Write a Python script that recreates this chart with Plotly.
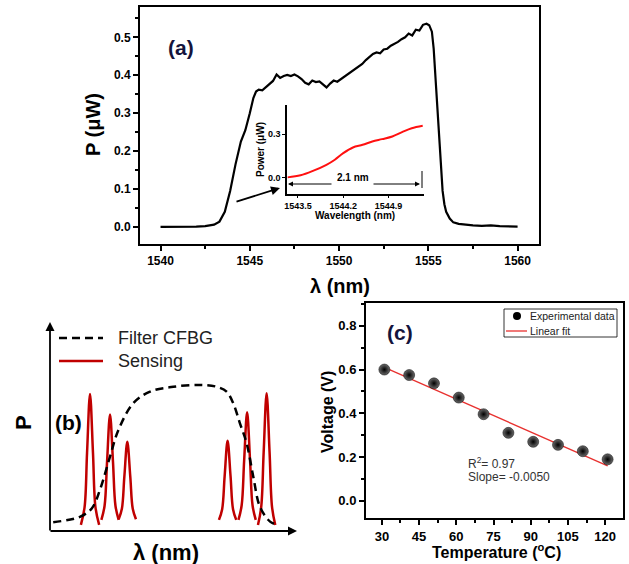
import plotly.graph_objects as go

W, H = 629, 564
def fx(p): return p / W
def fy(p): return 1 - p / H

FONT = "Arial, Liberation Sans, sans-serif"

# ---------------- Panel (a): spectrum ----------------
wavelength_a = [1540.0, 1540.5, 1541.0, 1541.5, 1542.0, 1542.5, 1543.0, 1543.3, 1543.6, 1543.9,
                1544.2, 1544.5, 1544.75, 1545.0, 1545.2, 1545.35, 1545.5, 1545.7, 1545.9, 1546.1,
                1546.3, 1546.5, 1546.7, 1546.9, 1547.1, 1547.3, 1547.5, 1547.7, 1547.9, 1548.1,
                1548.3, 1548.5, 1548.7, 1548.9, 1549.1, 1549.3, 1549.5, 1549.7, 1549.9, 1550.1,
                1550.3, 1550.5, 1550.7, 1550.9, 1551.1, 1551.3, 1551.5, 1551.7, 1551.9, 1552.1,
                1552.3, 1552.5, 1552.7, 1552.9, 1553.1, 1553.3, 1553.5, 1553.7, 1553.9, 1554.1,
                1554.3, 1554.5, 1554.7, 1554.9, 1555.05, 1555.2, 1555.3, 1555.4, 1555.5, 1555.6,
                1555.7, 1555.8, 1555.9, 1556.0, 1556.2, 1556.4, 1556.7, 1557.0, 1557.5, 1558.0,
                1558.5, 1559.0, 1559.5, 1560.0]
power_a = [0.0, 0.0, 0.0, 0.0, 0.001, 0.002, 0.006, 0.014, 0.04, 0.095,
           0.165, 0.225, 0.255, 0.30, 0.34, 0.357, 0.362, 0.36, 0.368, 0.375,
           0.385, 0.402, 0.393, 0.398, 0.401, 0.398, 0.402, 0.397, 0.39, 0.38,
           0.376, 0.386, 0.382, 0.384, 0.376, 0.368, 0.378, 0.386, 0.383, 0.39,
           0.397, 0.403, 0.41, 0.418, 0.424, 0.43, 0.44, 0.448, 0.456, 0.46,
           0.458, 0.468, 0.47, 0.478, 0.482, 0.488, 0.495, 0.5, 0.51, 0.505,
           0.52, 0.518, 0.533, 0.536, 0.532, 0.515, 0.47, 0.39, 0.31, 0.23,
           0.16, 0.095, 0.06, 0.04, 0.022, 0.012, 0.008, 0.006, 0.004, 0.003,
           0.004, 0.002, 0.002, 0.001]
xticks_a = [1540, 1545, 1550, 1555, 1560]

# inset
wavelength_in = [1543.34, 1543.54, 1543.74, 1543.94, 1544.07, 1544.2, 1544.35, 1544.5, 1544.65,
                 1544.8, 1544.96, 1545.11, 1545.26, 1545.43]
power_in = [0.004, 0.018, 0.05, 0.09, 0.125, 0.17, 0.209, 0.227, 0.25, 0.266, 0.284, 0.314,
            0.341, 0.358]
xticks_in = [1543.5, 1544.2, 1544.9]

# ---------------- Panel (b): schematic ----------------
filter_x = [1.3, 12.1, 16.9, 20.2, 24.3, 27.7, 33.7, 40.5, 49.9, 60.7, 67.5, 71.5, 74.2, 76.9,
            79.6, 82.3, 85.0, 89.1, 92.4]
filter_y = [4.2, 6.8, 10.8, 19.6, 35.6, 48.3, 61.1, 66.7, 69.0, 69.9, 69.0, 66.7, 61.1, 51.5,
            42.0, 26.0, 11.6, 4.5, 2.9]
peaks_x = [
    [12.5, 14.0, 15.0, 16.2, 17.4, 18.4, 19.9],
    [20.8, 22.1, 23.1, 24.3, 25.5, 26.5, 27.8],
    [27.8, 29.1, 30.1, 31.3, 32.5, 33.5, 34.8],
    [68.4, 69.7, 70.7, 71.9, 73.1, 74.1, 75.4],
    [76.3, 77.6, 78.6, 79.8, 81.0, 82.0, 83.3],
    [84.2, 85.5, 86.5, 87.7, 88.9, 89.9, 91.2],
]
peaks_y = [
    [2.9, 11.4, 37.4, 65.6, 37.4, 11.4, 2.9],
    [5.3, 12.1, 33.1, 55.8, 33.1, 12.1, 5.3],
    [5.6, 10.6, 26.0, 42.7, 26.0, 10.6, 5.6],
    [5.3, 10.4, 26.1, 43.2, 26.1, 10.4, 5.3],
    [5.3, 12.3, 33.6, 56.8, 33.6, 12.3, 5.3],
    [2.9, 11.4, 37.6, 65.9, 37.6, 11.4, 2.9],
]

# ---------------- Panel (c): voltage vs temperature ----------------
temperature_c = [31, 41, 51, 61, 71, 81, 91, 101, 111, 121]
voltage_c = [0.60, 0.575, 0.537, 0.472, 0.396, 0.311, 0.27, 0.256, 0.227, 0.19]
fit_slope = -0.0050
fit_intercept = 0.765
fit_x = [temperature_c[0], temperature_c[-1]]
fit_y = [fit_intercept + fit_slope * t for t in fit_x]
xticks_c = [30, 45, 60, 75, 90, 105, 120]
yticks_c = [0.0, 0.2, 0.4, 0.6, 0.8]

RED_DARK = "#c00000"

fig = go.Figure()

fig.add_trace(go.Scatter(x=wavelength_a, y=power_a, mode="lines",
                         line=dict(color="black", width=2.2), xaxis="x", yaxis="y",
                         showlegend=False))
fig.add_trace(go.Scatter(x=wavelength_in, y=power_in, mode="lines", line_shape="spline",
                         line=dict(color="#ff1010", width=2), xaxis="x2", yaxis="y2",
                         showlegend=False))
for px_, py_ in zip(peaks_x, peaks_y):
    fig.add_trace(go.Scatter(x=px_, y=py_, mode="lines", line_shape="spline",
                             line=dict(color=RED_DARK, width=2.5), xaxis="x3", yaxis="y3",
                             showlegend=False))
fig.add_trace(go.Scatter(x=filter_x, y=filter_y, mode="lines", line_shape="spline",
                         line=dict(color="black", width=2.5, dash="8px,5px"),
                         xaxis="x3", yaxis="y3", showlegend=False))
fig.add_trace(go.Scatter(x=fit_x, y=fit_y, mode="lines",
                         line=dict(color="#e8312f", width=1.3), xaxis="x4", yaxis="y4",
                         showlegend=False))
fig.add_trace(go.Scatter(x=temperature_c, y=voltage_c, mode="markers",
                         marker=dict(size=11, color="#6a6a6a",
                                     gradient=dict(type="radial", color="black"),
                                     line=dict(width=0.5, color="black")),
                         xaxis="x4", yaxis="y4", showlegend=False))

tick_bold = dict(family=FONT, size=12, color="black", weight="bold")
common = dict(showgrid=False, zeroline=False, showline=True, linecolor="black",
              ticks="outside", tickcolor="black")

fig.update_layout(
    width=W, height=H, margin=dict(l=0, r=0, t=0, b=0),
    paper_bgcolor="white", plot_bgcolor="rgba(0,0,0,0)", template="none",
    font=dict(family=FONT, color="black"),
    xaxis=dict(domain=[fx(140), fx(539)], range=[1538.85, 1561.2], anchor="y",
               tickvals=xticks_a, ticklen=5, tickwidth=1.5, linewidth=2, mirror=True,
               tickfont=tick_bold, minor=dict(dtick=2.5, ticks="outside", ticklen=3,
                                              tickwidth=1.5, tickcolor="black"), **common),
    yaxis=dict(domain=[fy(244), fy(7)], range=[-0.045, 0.58], anchor="x",
               dtick=0.1, tick0=0, tickformat=".1f", ticklen=5, tickwidth=1.5, linewidth=2,
               mirror=True, tickfont=tick_bold,
               minor=dict(dtick=0.05, ticks="outside", ticklen=3, tickwidth=1.5,
                          tickcolor="black"), **common),
    xaxis2=dict(domain=[fx(287), fx(424)], range=[1543.33, 1545.45], anchor="y2",
                tickvals=xticks_in, ticktext=[f"{v:.1f}" for v in xticks_in],
                ticklen=2, tickwidth=1, linewidth=1.5,
                tickfont=dict(family=FONT, size=9, weight="bold", color="black"), **common),
    yaxis2=dict(domain=[fy(194), fy(105)], range=[-0.11, 0.5], anchor="x2",
                tickvals=[0.0, 0.3], tickformat=".1f", ticklen=3, tickwidth=1, linewidth=1.5,
                tickfont=dict(family=FONT, size=9, weight="bold", color="black"), **common),
    xaxis3=dict(domain=[fx(50), fx(297)], range=[0, 100], visible=False, anchor="y3"),
    yaxis3=dict(domain=[fy(531), fy(322)], range=[0, 100], visible=False, anchor="x3"),
    xaxis4=dict(domain=[fx(366), fx(623)], range=[23.6, 127.2], anchor="y4",
                tickvals=xticks_c, ticklen=5, tickwidth=1.5, linewidth=2, mirror=True,
                tickfont=dict(family=FONT, size=13, weight="bold", color="black"),
                minor=dict(dtick=7.5, tick0=30, ticks="outside", ticklen=3, tickwidth=1.5,
                           tickcolor="black"), **common),
    yaxis4=dict(domain=[fy(518), fy(303)], range=[-0.078, 0.904], anchor="x4",
                tickvals=yticks_c, tickformat=".1f", ticklen=5, tickwidth=1.5, linewidth=2,
                mirror=True, tickfont=dict(family=FONT, size=13, weight="bold", color="black"),
                minor=dict(dtick=0.1, tick0=0, ticks="outside", ticklen=3, tickwidth=1.5,
                           tickcolor="black"), **common),
)

ann = []
def txt(x, y, s, size, bold=True, color="black", angle=0, xanchor="center"):
    ann.append(dict(x=fx(x), y=fy(y), xref="paper", yref="paper", text=s, showarrow=False,
                    textangle=angle, xanchor=xanchor, yanchor="middle",
                    font=dict(family=FONT, size=size, color=color,
                              weight="bold" if bold else "normal")))

# panel a texts
txt(181, 47, "(a)", 21, color="#14143c")
txt(93, 125, "P (μW)", 20, angle=-90)
txt(340, 286, "λ (nm)", 20)
txt(260, 150, "Power (μW)", 10, angle=-90)
txt(355, 215, "Wavelength (nm)", 10)
txt(353, 177, "2.1 nm", 10)
# panel b texts
txt(68, 422, "(b)", 21)
txt(23, 423, "P", 22, angle=-90)
txt(166, 552, "λ (nm)", 22)
txt(116, 338, "Filter CFBG", 18, bold=False, color="#222", xanchor="left")
txt(116, 361, "Sensing", 18, bold=False, color="#222", xanchor="left")
# panel c texts
txt(400, 332, "(c)", 21, color="#14143c")
txt(327, 412, "Voltage (V)", 16, angle=-90)
txt(496, 551, "Temperature (<sup>o</sup>C)", 16)
txt(466, 463, "R<sup>2</sup>= 0.97", 12, bold=False, color="#333", xanchor="left")
txt(466, 477, "Slope= -0.0050", 12, bold=False, color="#333", xanchor="left")
txt(528, 316, "Experimental data", 10.5, bold=False, color="#222", xanchor="left")
txt(528, 331, "Linear fit", 10.5, bold=False, color="#222", xanchor="left")

def arrow(hx, hy, tx, ty, width=1.5, size=1.0, head=2):
    ann.append(dict(x=fx(hx), y=fy(hy), xref="paper", yref="paper", showarrow=True,
                    ax=tx - hx, ay=ty - hy, axref="pixel", ayref="pixel", text="",
                    arrowhead=head, arrowsize=size, arrowwidth=width, arrowcolor="black"))

arrow(280, 188, 235, 202, width=1.8)
arrow(288, 184, 333, 184, width=1)
arrow(420, 184, 372, 184, width=1)
arrow(50, 322, 50, 532, width=1.8)
arrow(297, 531, 49, 531, width=1.8)
fig.update_layout(annotations=ann)

shapes = []
def seg(x0, y0, x1, y1, color="black", width=1, dash="solid"):
    shapes.append(dict(type="line", xref="paper", yref="paper", x0=fx(x0), y0=fy(y0),
                       x1=fx(x1), y1=fy(y1), line=dict(color=color, width=width, dash=dash)))

seg(422, 171, 422, 188, width=1)
# panel b legend samples
seg(59, 338, 103, 338, width=2.5, dash="8px,5px")
seg(59, 361, 103, 361, color=RED_DARK, width=2.5)
# panel c legend
shapes.append(dict(type="rect", xref="paper", yref="paper", x0=fx(504), y0=fy(337),
                   x1=fx(617), y1=fy(309), line=dict(color="black", width=0.8)))
seg(506, 331, 527, 331, color="#e8312f", width=1.3)
shapes.append(dict(type="circle", xref="paper", yref="paper", x0=fx(513), y0=fy(320),
                   x1=fx(521), y1=fy(312), fillcolor="black", line=dict(width=0)))
fig.update_layout(shapes=shapes)

fig.write_html("out.html", config={"displayModeBar": False},
               post_script="document.body.style.margin='0px';document.body.style.padding='0px';")
